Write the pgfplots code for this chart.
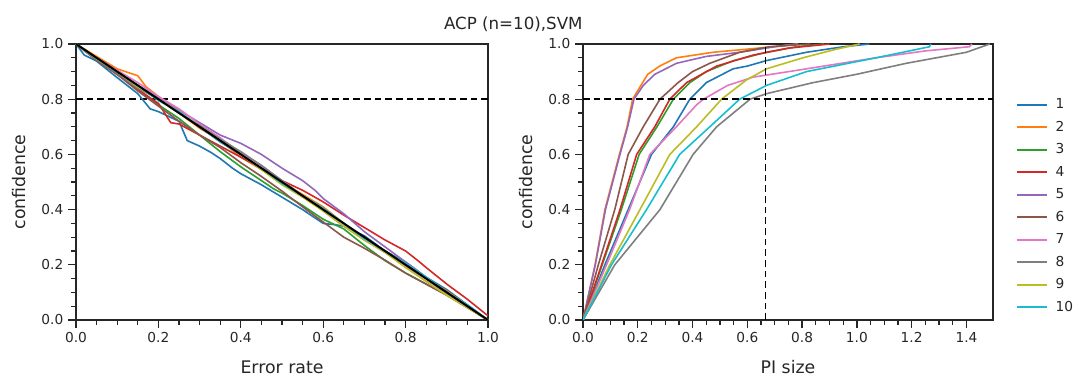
\documentclass[border=0pt]{standalone}
\usepackage{pgfplots}
\pgfplotsset{compat=1.18}
\usepackage{fontspec}
\setmainfont{DejaVu Sans}
\definecolor{tabblue}{HTML}{1F77B4}
\definecolor{taborange}{HTML}{FF7F0E}
\definecolor{tabgreen}{HTML}{2CA02C}
\definecolor{tabred}{HTML}{D62728}
\definecolor{tabpurple}{HTML}{9467BD}
\definecolor{tabbrown}{HTML}{8C564B}
\definecolor{tabpink}{HTML}{E377C2}
\definecolor{tabgray}{HTML}{7F7F7F}
\definecolor{tabolive}{HTML}{BCBD22}
\definecolor{tabcyan}{HTML}{17BECF}
\definecolor{axc}{HTML}{262626}
\pgfplotsset{
  myaxis/.style={
    scale only axis, height=207pt,
    ymin=0, ymax=1, xmin=0,
    tick align=outside, tick pos=left,
    minor x tick num=3, minor y tick num=3,
    major tick length=6pt, minor tick length=3.75pt,
    every tick/.style={axc, line width=1pt},
    axis line style={axc, line width=1.2pt},
    tick label style={font=\fontsize{10.3}{12}\selectfont, color=axc},
    /pgf/number format/assume math mode=true,
    xticklabel style={/pgf/number format/fixed, /pgf/number format/fixed zerofill, /pgf/number format/precision=1},
    yticklabel style={/pgf/number format/fixed, /pgf/number format/fixed zerofill, /pgf/number format/precision=1},
    ytick={0,0.2,0.4,0.6,0.8,1},
    ylabel=confidence,
    every axis y label/.style={at={(axis description cs:-0.138,0.5)}, anchor=center, rotate=90, font=\fontsize{13}{15}\selectfont, color=axc},
    every axis x label/.style={at={(axis description cs:0.5,-0.172)}, anchor=center, font=\fontsize{13}{15}\selectfont, color=axc},
    every axis plot/.append style={line width=1.2pt},
    dl/.style={black, line width=1.2pt, dash pattern=on 5pt off 3pt},
  }
}
\begin{document}
\begin{tikzpicture}
\path[use as bounding box] (-57pt,-43.5pt) rectangle (749.25pt,240pt);
\node[font=\fontsize{12.5}{14}\selectfont, color=axc] at (328pt,222pt) {ACP (n=10),SVM};
% ---------------- left axis
\begin{axis}[myaxis, at={(0pt,0pt)}, anchor=south west, width=309pt,
  xmax=1, xtick={0,0.2,0.4,0.6,0.8,1}, xlabel={Error rate}]
\addplot[dl, forget plot] coordinates {(0,0.8) (1,0.8)};
\addplot[tabblue] coordinates {(0,1) (0.02,0.96) (0.05,0.938) (0.1,0.878) (0.15,0.82) (0.18,0.765) (0.2,0.755) (0.25,0.72) (0.27,0.65) (0.3,0.63) (0.33,0.605) (0.35,0.585) (0.38,0.55) (0.4,0.53) (0.45,0.49) (0.5,0.445) (0.55,0.40) (0.6,0.35) (0.63,0.345) (0.65,0.34) (0.7,0.305) (0.75,0.25) (0.8,0.21) (0.85,0.155) (0.9,0.11) (0.95,0.055) (1,0)};
\addplot[taborange] coordinates {(0,1) (0.05,0.955) (0.1,0.91) (0.13,0.895) (0.15,0.885) (0.17,0.845) (0.2,0.81) (0.25,0.75) (0.3,0.695) (0.35,0.65) (0.4,0.59) (0.45,0.545) (0.5,0.5) (0.55,0.455) (0.6,0.41) (0.65,0.35) (0.7,0.29) (0.75,0.25) (0.8,0.205) (0.85,0.15) (0.9,0.105) (0.95,0.053) (1,0)};
\addplot[tabgreen] coordinates {(0,1) (0.05,0.945) (0.1,0.89) (0.15,0.835) (0.2,0.78) (0.25,0.73) (0.3,0.67) (0.35,0.61) (0.4,0.555) (0.45,0.505) (0.48,0.475) (0.5,0.46) (0.55,0.415) (0.6,0.365) (0.65,0.33) (0.7,0.27) (0.75,0.215) (0.8,0.17) (0.85,0.13) (0.9,0.09) (0.95,0.045) (1,0)};
\addplot[tabred] coordinates {(0,1) (0.05,0.945) (0.1,0.89) (0.15,0.835) (0.2,0.785) (0.23,0.715) (0.25,0.71) (0.3,0.67) (0.35,0.63) (0.4,0.59) (0.45,0.55) (0.5,0.505) (0.55,0.47) (0.6,0.428) (0.65,0.38) (0.7,0.335) (0.75,0.29) (0.8,0.25) (0.83,0.215) (0.85,0.19) (0.9,0.13) (0.95,0.075) (1,0.015)};
\addplot[tabpurple] coordinates {(0,1) (0.05,0.945) (0.1,0.895) (0.15,0.85) (0.2,0.805) (0.25,0.76) (0.3,0.715) (0.35,0.67) (0.4,0.64) (0.45,0.60) (0.5,0.55) (0.55,0.505) (0.58,0.47) (0.6,0.44) (0.65,0.385) (0.7,0.32) (0.75,0.265) (0.8,0.21) (0.85,0.155) (0.9,0.10) (0.95,0.05) (1,0)};
\addplot[tabbrown] coordinates {(0,1) (0.05,0.94) (0.1,0.89) (0.15,0.83) (0.2,0.775) (0.25,0.72) (0.3,0.67) (0.35,0.625) (0.4,0.57) (0.45,0.52) (0.5,0.467) (0.55,0.41) (0.6,0.355) (0.65,0.30) (0.7,0.26) (0.75,0.217) (0.8,0.17) (0.85,0.13) (0.9,0.09) (0.95,0.045) (1,0)};
\addplot[tabpink] coordinates {(0,1) (0.05,0.95) (0.1,0.905) (0.15,0.86) (0.2,0.81) (0.25,0.765) (0.3,0.71) (0.35,0.66) (0.4,0.605) (0.45,0.56) (0.5,0.505) (0.55,0.45) (0.6,0.395) (0.65,0.34) (0.7,0.29) (0.75,0.245) (0.8,0.195) (0.85,0.14) (0.9,0.09) (0.95,0.045) (1,0)};
\addplot[tabgray] coordinates {(0,1) (0.05,0.945) (0.1,0.895) (0.15,0.84) (0.2,0.80) (0.25,0.75) (0.3,0.705) (0.35,0.655) (0.4,0.61) (0.45,0.56) (0.5,0.505) (0.55,0.45) (0.6,0.405) (0.65,0.35) (0.7,0.295) (0.75,0.25) (0.8,0.205) (0.85,0.15) (0.9,0.095) (0.95,0.05) (1,0)};
\addplot[tabolive] coordinates {(0,1) (0.05,0.947) (0.1,0.90) (0.15,0.845) (0.2,0.80) (0.25,0.755) (0.3,0.70) (0.35,0.645) (0.4,0.60) (0.45,0.545) (0.5,0.49) (0.55,0.445) (0.6,0.395) (0.65,0.34) (0.7,0.29) (0.75,0.245) (0.8,0.19) (0.85,0.14) (0.9,0.09) (0.95,0.045) (1,0)};
\addplot[tabcyan] coordinates {(0,1) (0.05,0.948) (0.1,0.90) (0.15,0.85) (0.2,0.795) (0.25,0.755) (0.3,0.70) (0.35,0.645) (0.4,0.60) (0.45,0.55) (0.5,0.495) (0.55,0.45) (0.6,0.405) (0.65,0.35) (0.7,0.295) (0.75,0.25) (0.8,0.205) (0.85,0.155) (0.9,0.10) (0.95,0.055) (1,0)};
\addplot[black, line width=1.5pt] coordinates {(0,1) (1,0)};
\end{axis}
% ---------------- right axis
\begin{axis}[myaxis, at={(380.25pt,0pt)}, anchor=south west, width=307.5pt,
  xmax=1.497, xtick={0,0.2,0.4,0.6,0.8,1,1.2,1.4}, xlabel={PI size},
  legend style={at={(rel axis cs:1.045,0.413)}, anchor=west, draw=none, fill=none,
    font=\fontsize{10.3}{12}\selectfont, text=axc, row sep=3.8pt, column sep=4pt},
  legend cell align=left,
  legend image code/.code={\draw[#1, line width=1.5pt] plot coordinates {(0pt,0pt) (11.25pt,0pt) (22.5pt,0pt)};}]
\addplot[tabblue] coordinates {(0,0) (0.08,0.2) (0.165,0.4) (0.25,0.6) (0.33,0.7) (0.39,0.8) (0.45,0.86) (0.548,0.91) (0.60,0.92) (0.67,0.94) (0.816,0.97) (0.95,0.99) (1.046,1.0)};
\addlegendentry{1}
\addplot[taborange] coordinates {(0,0) (0.044,0.2) (0.08,0.4) (0.133,0.6) (0.161,0.7) (0.181,0.8) (0.236,0.89) (0.28,0.92) (0.341,0.95) (0.475,0.97) (0.694,0.99) (0.785,1.0)};
\addlegendentry{2}
\addplot[tabgreen] coordinates {(0,0) (0.07,0.2) (0.14,0.4) (0.205,0.6) (0.27,0.7) (0.33,0.8) (0.39,0.86) (0.45,0.9) (0.55,0.94) (0.67,0.97) (0.78,0.99) (0.88,1.0)};
\addlegendentry{3}
\addplot[tabred] coordinates {(0,0) (0.068,0.2) (0.135,0.4) (0.196,0.6) (0.262,0.7) (0.317,0.8) (0.378,0.86) (0.488,0.92) (0.622,0.96) (0.75,0.985) (0.9,1.0)};
\addlegendentry{4}
\addplot[tabpurple] coordinates {(0,0) (0.045,0.2) (0.082,0.4) (0.135,0.6) (0.163,0.7) (0.186,0.8) (0.22,0.85) (0.262,0.89) (0.341,0.93) (0.45,0.955) (0.572,0.97) (0.7,0.99) (0.785,1.0)};
\addlegendentry{5}
\addplot[tabbrown] coordinates {(0,0) (0.056,0.2) (0.116,0.4) (0.165,0.6) (0.22,0.7) (0.281,0.8) (0.347,0.86) (0.40,0.9) (0.463,0.93) (0.572,0.97) (0.68,0.99) (0.83,1.0)};
\addlegendentry{6}
\addplot[tabpink] coordinates {(0,0) (0.086,0.2) (0.17,0.4) (0.244,0.6) (0.341,0.7) (0.415,0.78) (0.44,0.8) (0.528,0.85) (0.622,0.88) (0.816,0.91) (1.07,0.95) (1.25,0.975) (1.41,0.99) (1.42,1.0)};
\addlegendentry{7}
\addplot[tabgray] coordinates {(0,0) (0.116,0.2) (0.281,0.4) (0.402,0.6) (0.488,0.7) (0.61,0.8) (0.67,0.82) (0.84,0.86) (0.998,0.89) (1.18,0.93) (1.40,0.97) (1.485,1.0)};
\addlegendentry{8}
\addplot[tabolive] coordinates {(0,0) (0.098,0.2) (0.208,0.4) (0.317,0.6) (0.415,0.7) (0.506,0.8) (0.597,0.87) (0.67,0.91) (0.803,0.95) (0.92,0.98) (1.01,1.0)};
\addlegendentry{9}
\addplot[tabcyan] coordinates {(0,0) (0.104,0.2) (0.232,0.4) (0.353,0.6) (0.463,0.7) (0.572,0.8) (0.67,0.85) (0.816,0.9) (1.07,0.95) (1.265,0.99) (1.27,1.0)};
\addlegendentry{10}
\addplot[dl, forget plot] coordinates {(0,0.8) (1.497,0.8)};
\addplot[dl, forget plot] coordinates {(0.667,0) (0.667,1)};
\end{axis}
\end{tikzpicture}
\end{document}
